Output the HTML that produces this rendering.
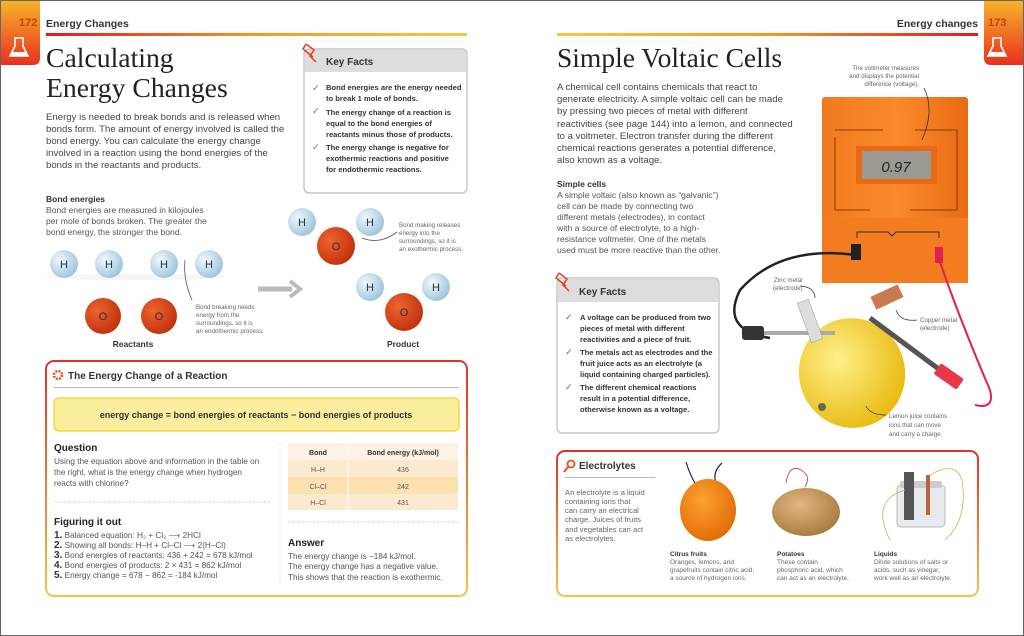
<!DOCTYPE html>
<html><head><meta charset="utf-8"><style>
html,body{margin:0;padding:0;background:#fff;}
svg{display:block;}
text{font-family:"Liberation Sans",sans-serif;}
.s{font-family:"Liberation Serif",serif;}
.b{font-weight:bold;}
</style></head><body>
<svg width="1024" height="636" viewBox="0 0 1024 636" xmlns="http://www.w3.org/2000/svg">
<defs>
<linearGradient id="lineL" x1="0" x2="1"><stop offset="0" stop-color="#e01b22"/><stop offset="0.5" stop-color="#f39a1e"/><stop offset="1" stop-color="#f8c840"/></linearGradient>
<linearGradient id="lineR" x1="0" x2="1"><stop offset="0" stop-color="#f8c840"/><stop offset="0.5" stop-color="#f39a1e"/><stop offset="1" stop-color="#e01b22"/></linearGradient>
<linearGradient id="tab" x1="0" y1="0" x2="0" y2="1"><stop offset="0" stop-color="#f7b32b"/><stop offset="1" stop-color="#e8301e"/></linearGradient>
<linearGradient id="box" x1="0" y1="0" x2="0" y2="1"><stop offset="0" stop-color="#e0302a"/><stop offset="1" stop-color="#f7c445"/></linearGradient>
<radialGradient id="hg" cx="0.35" cy="0.35" r="0.7"><stop offset="0" stop-color="#f2f8fc"/><stop offset="1" stop-color="#9cc4dc"/></radialGradient>
<radialGradient id="og" cx="0.35" cy="0.35" r="0.7"><stop offset="0" stop-color="#f0642e"/><stop offset="1" stop-color="#c0300e"/></radialGradient>
<radialGradient id="lem" cx="0.4" cy="0.35" r="0.7"><stop offset="0" stop-color="#fff08a"/><stop offset="1" stop-color="#e8b80c"/></radialGradient>
<radialGradient id="org" cx="0.4" cy="0.35" r="0.7"><stop offset="0" stop-color="#ffa030"/><stop offset="1" stop-color="#e06a08"/></radialGradient>
<radialGradient id="pot" cx="0.4" cy="0.35" r="0.7"><stop offset="0" stop-color="#e0b880"/><stop offset="1" stop-color="#a87840"/></radialGradient>
<linearGradient id="meter" x1="0" x2="1"><stop offset="0" stop-color="#f07a1e"/><stop offset="0.5" stop-color="#fb8a2c"/><stop offset="1" stop-color="#e86a14"/></linearGradient>
</defs>
<rect x="0.5" y="0.5" width="1023" height="635" fill="#fff" stroke="#666"/>
<!-- LEFT PAGE -->
<path d="M1 1H40V58Q40 65 33 65H1Z" fill="url(#tab)"/>
<text x="19" y="26" font-size="11" class="b" fill="#b8480c">172</text>
<path d="M15 38h8v8l5 10h-18l5-10z" fill="none" stroke="#fff" stroke-width="1.6"/>
<path d="M12 52h14l2 4h-18z" fill="#fff"/>
<text x="46" y="27" font-size="10.5" class="b" fill="#333">Energy Changes</text>
<rect x="46" y="33" width="421" height="3" fill="url(#lineL)"/>
<text x="46" y="67" font-size="27.7" class="s" fill="#222">Calculating</text>
<text x="46" y="97" font-size="27.7" class="s" fill="#222">Energy Changes</text>
<g font-size="9.6" fill="#444">
<text x="46" y="120">Energy is needed to break bonds and is released when</text>
<text x="46" y="132">bonds form. The amount of energy involved is called the</text>
<text x="46" y="144">bond energy. You can calculate the energy change</text>
<text x="46" y="156">involved in a reaction using the bond energies of the</text>
<text x="46" y="168">bonds in the reactants and products.</text>
</g>
<!-- key facts L -->
<rect x="304" y="49" width="163" height="144" rx="5" fill="#fff" stroke="#bbb" stroke-width="1.2"/>
<path d="M305 72V54Q305 50 309 50H462Q466 50 466 54V72Z" fill="#ddd"/>
<text x="326" y="65" font-size="10" class="b" fill="#333">Key Facts</text>
<path d="M306 44l8 6-4 6 6 6M306 44l-3 5 10 8" fill="none" stroke="#e8401e" stroke-width="1.5"/>
<g font-size="7.6" class="b" fill="#333">
<text x="312" y="91" fill="#999" font-size="9">✓</text>
<text x="326" y="90">Bond energies are the energy needed</text>
<text x="326" y="101">to break 1 mole of bonds.</text>
<text x="312" y="114" fill="#999" font-size="9">✓</text>
<text x="326" y="115">The energy change of a reaction is</text>
<text x="326" y="126">equal to the bond energies of</text>
<text x="326" y="137">reactants minus those of products.</text>
<text x="312" y="150" fill="#999" font-size="9">✓</text>
<text x="326" y="150">The energy change is negative for</text>
<text x="326" y="161">exothermic reactions and positive</text>
<text x="326" y="172">for endothermic reactions.</text>
</g>
<text x="46" y="202" font-size="8.5" class="b" fill="#333">Bond energies</text>
<g font-size="8.6" fill="#555">
<text x="46" y="213">Bond energies are measured in kilojoules</text>
<text x="46" y="224">per mole of bonds broken. The greater the</text>
<text x="46" y="235">bond energy, the stronger the bond.</text>
</g>
<!-- molecules -->
<g font-size="11" class="s" fill="#234" text-anchor="middle">
<ellipse cx="135" cy="277" rx="90" ry="3" fill="#f5f5f5"/>
<circle cx="64" cy="264" r="14" fill="url(#hg)"/><text x="64" y="268">H</text>
<circle cx="109" cy="264" r="14" fill="url(#hg)"/><text x="109" y="268">H</text>
<circle cx="164" cy="264" r="14" fill="url(#hg)"/><text x="164" y="268">H</text>
<circle cx="209" cy="264" r="14" fill="url(#hg)"/><text x="209" y="268">H</text>
<circle cx="103" cy="316" r="18" fill="url(#og)"/><text x="103" y="320">O</text>
<circle cx="159" cy="316" r="18" fill="url(#og)"/><text x="159" y="320">O</text>
<circle cx="302" cy="222" r="14" fill="url(#hg)"/><text x="302" y="226">H</text>
<circle cx="370" cy="222" r="14" fill="url(#hg)"/><text x="370" y="226">H</text>
<circle cx="336" cy="246" r="19" fill="url(#og)"/><text x="336" y="250">O</text>
<circle cx="370" cy="287" r="14" fill="url(#hg)"/><text x="370" y="291">H</text>
<circle cx="436" cy="287" r="14" fill="url(#hg)"/><text x="436" y="291">H</text>
<circle cx="404" cy="312" r="19" fill="url(#og)"/><text x="404" y="316">O</text>
</g>
<path d="M258 289h34" stroke="#bbb" stroke-width="5"/><path d="M290 281l10 8-10 8" fill="none" stroke="#bbb" stroke-width="4"/>
<path d="M192 300Q183 280 185 260" fill="none" stroke="#555" stroke-width="0.8"/>
<path d="M362 238Q380 245 397 232" fill="none" stroke="#555" stroke-width="0.8"/>
<g font-size="6.2" fill="#666">
<text x="196" y="309">Bond breaking needs</text><text x="196" y="317">energy from the</text><text x="196" y="325">surroundings, so it is</text><text x="196" y="333">an endothermic process.</text>
<text x="399" y="227">Bond making releases</text><text x="399" y="235">energy into the</text><text x="399" y="243">surroundings, so it is</text><text x="399" y="251">an exothermic process.</text>
</g>
<text x="133" y="347" font-size="8.5" class="b" fill="#333" text-anchor="middle">Reactants</text>
<text x="403" y="347" font-size="8.5" class="b" fill="#333" text-anchor="middle">Product</text>
<!-- reaction box -->
<rect x="46" y="361" width="421" height="235" rx="8" fill="#fff" stroke="url(#box)" stroke-width="2"/>
<circle cx="58" cy="375" r="4" fill="none" stroke="#e8501e" stroke-width="2.5" stroke-dasharray="2 1.2"/>
<text x="68" y="379" font-size="10" class="b" fill="#333">The Energy Change of a Reaction</text>
<rect x="54" y="387" width="405" height="1" fill="#bbb"/>
<rect x="54" y="398" width="405" height="33" rx="5" fill="#fbed9e" stroke="#f3d74a" stroke-width="1.5"/>
<text x="256" y="418" font-size="9" class="b" fill="#333" text-anchor="middle">energy change = bond energies of reactants − bond energies of products</text>
<text x="54" y="451" font-size="10" class="b" fill="#222">Question</text>
<g font-size="8.2" fill="#555"><text x="54" y="464">Using the equation above and information in the table on</text><text x="54" y="475">the right, what is the energy change when hydrogen</text><text x="54" y="486">reacts with chlorine?</text></g>
<path d="M54 502H271M288 522H459" stroke="#bbb" stroke-dasharray="1 1.5"/>
<path d="M280 443V582" stroke="#ccc" stroke-dasharray="1 1.5"/>
<rect x="288" y="443" width="170" height="67" fill="#fbe1b0"/>
<rect x="288" y="460" width="170" height="17" fill="#fcead0"/>
<rect x="288" y="494" width="170" height="16" fill="#fcead0"/>
<rect x="288" y="443" width="170" height="17" fill="#fdf2e4"/>
<path d="M348 443V510" stroke="#fff"/>
<g font-size="7" fill="#555" text-anchor="middle">
<text x="318" y="455" class="b" fill="#333">Bond</text><text x="403" y="455" class="b" fill="#333">Bond energy (kJ/mol)</text>
<text x="318" y="472">H–H</text><text x="403" y="472">436</text>
<text x="318" y="489">Cl–Cl</text><text x="403" y="489">242</text>
<text x="318" y="505">H–Cl</text><text x="403" y="505">431</text>
</g>
<text x="54" y="525" font-size="10" class="b" fill="#222">Figuring it out</text>
<g font-size="8.2" fill="#555">
<text x="54" y="538"><tspan class="b" font-size="10" fill="#333">1.</tspan> Balanced equation: H₂ + Cl₂ ⟶ 2HCl</text>
<text x="54" y="548"><tspan class="b" font-size="10" fill="#333">2.</tspan> Showing all bonds: H–H + Cl–Cl ⟶ 2(H–Cl)</text>
<text x="54" y="558"><tspan class="b" font-size="10" fill="#333">3.</tspan> Bond energies of reactants: 436 + 242 = 678 kJ/mol</text>
<text x="54" y="568"><tspan class="b" font-size="10" fill="#333">4.</tspan> Bond energies of products: 2 × 431 = 862 kJ/mol</text>
<text x="54" y="578"><tspan class="b" font-size="10" fill="#333">5.</tspan> Energy change = 678 − 862 = -184 kJ/mol</text>
</g>
<text x="288" y="546" font-size="10" class="b" fill="#222">Answer</text>
<g font-size="8.2" fill="#555"><text x="288" y="559">The energy change is −184 kJ/mol.</text><text x="288" y="569">The energy change has a negative value.</text><text x="288" y="580">This shows that the reaction is exothermic.</text></g>

<!-- RIGHT PAGE -->
<path d="M1023 1H984V58Q984 65 991 65H1023Z" fill="url(#tab)"/>
<text x="988" y="26" font-size="11" class="b" fill="#b8480c">173</text>
<path d="M993 38h8v8l5 10h-18l5-10z" fill="none" stroke="#fff" stroke-width="1.6"/>
<path d="M990 52h14l2 4h-18z" fill="#fff"/>
<text x="978" y="27" font-size="10.5" class="b" fill="#333" text-anchor="end">Energy changes</text>
<rect x="557" y="33" width="421" height="3" fill="url(#lineR)"/>
<text x="557" y="67" font-size="27.5" class="s" fill="#222">Simple Voltaic Cells</text>
<g font-size="9.6" fill="#444">
<text x="557" y="90">A chemical cell contains chemicals that react to</text>
<text x="557" y="102">generate electricity. A simple voltaic cell can be made</text>
<text x="557" y="114">by pressing two pieces of metal with different</text>
<text x="557" y="127">reactivities (see page 144) into a lemon, and connected</text>
<text x="557" y="139">to a voltmeter. Electron transfer during the different</text>
<text x="557" y="151">chemical reactions generates a potential difference,</text>
<text x="557" y="163">also known as a voltage.</text>
</g>
<text x="557" y="187" font-size="8.5" class="b" fill="#333">Simple cells</text>
<g font-size="8.6" fill="#555">
<text x="557" y="198">A simple voltaic (also known as “galvanic”)</text>
<text x="557" y="209">cell can be made by connecting two</text>
<text x="557" y="220">different metals (electrodes), in contact</text>
<text x="557" y="231">with a source of electrolyte, to a high-</text>
<text x="557" y="242">resistance voltmeter. One of the metals</text>
<text x="557" y="253">used must be more reactive than the other.</text>
</g>
<!-- voltmeter -->
<g font-size="6.2" fill="#666" text-anchor="end">
<text x="919" y="70">The voltmeter measures</text><text x="919" y="78">and displays the potential</text><text x="919" y="86">difference (voltage).</text>
</g>
<rect x="822" y="97" width="146" height="186" rx="3" fill="url(#meter)"/>
<rect x="822" y="218" width="146" height="65" fill="#f47c20"/>
<path d="M835 137V210M835 130H883M915 130H957V210M835 210H870M910 210H957" stroke="#8a3a08" fill="none"/>
<rect x="856" y="146" width="81" height="38" fill="#e86a14"/>
<rect x="862" y="151" width="69" height="28" fill="#9a9a92"/>
<text x="896" y="172" font-size="15" fill="#222" text-anchor="middle" font-style="italic">0.97</text>
<path d="M857 238V232H888l4 4 4-4H939V238" stroke="#333" fill="none"/>
<path d="M924 88Q935 110 922 140" fill="none" stroke="#333" stroke-width="0.8"/>
<!-- wires & lemon -->
<path d="M855 255Q780 245 740 290Q720 330 770 338" fill="none" stroke="#222" stroke-width="2.5"/>
<rect x="851" y="244" width="10" height="16" fill="#222"/>
<rect x="935" y="247" width="8" height="16" fill="#e02050"/>
<path d="M940 262Q960 320 990 390Q995 410 975 405" fill="none" stroke="#e42050" stroke-width="2"/>
<ellipse cx="852" cy="373" rx="53" ry="55" fill="url(#lem)" transform="rotate(-15 852 373)"/>
<circle cx="822" cy="407" r="4" fill="#665"/>
<rect x="742" y="326" width="22" height="14" rx="3" fill="#333"/>
<path d="M764 333H835" stroke="#aaa" stroke-width="4"/>
<rect x="804" y="300" width="12" height="42" fill="#ddd" stroke="#999" stroke-width="0.5" transform="rotate(-20 810 321)"/>
<rect x="872" y="290" width="30" height="14" fill="#c87a50" transform="rotate(-25 887 297)"/>
<path d="M870 318L940 370" stroke="#555" stroke-width="5"/>
<rect x="935" y="370" width="28" height="13" rx="2" fill="#e83848" transform="rotate(35 949 376)"/>
<g font-size="6.2" fill="#666">
<text x="774" y="282">Zinc metal</text><text x="773" y="290">(electrode)</text>
<text x="920" y="322">Copper metal</text><text x="920" y="330">(electrode)</text>
<text x="889" y="418">Lemon juice contains</text><text x="889" y="427">ions that can move</text><text x="889" y="436">and carry a charge.</text>
</g>
<path d="M800 286Q815 287 815 298M917 320Q900 322 896 310M886 415Q870 415 866 406" fill="none" stroke="#333" stroke-width="0.7"/>
<!-- key facts R -->
<rect x="557" y="278" width="162" height="155" rx="5" fill="#fff" stroke="#bbb" stroke-width="1.2"/>
<path d="M558 302V283Q558 279 562 279H714Q718 279 718 283V302Z" fill="#ddd"/>
<text x="579" y="295" font-size="10" class="b" fill="#333">Key Facts</text>
<path d="M559 273l8 6-4 6 6 6M559 273l-3 5 10 8" fill="none" stroke="#e8401e" stroke-width="1.5"/>
<g font-size="7.6" class="b" fill="#333">
<text x="565" y="320" fill="#999" font-size="9">✓</text>
<text x="580" y="320">A voltage can be produced from two</text>
<text x="580" y="331">pieces of metal with different</text>
<text x="580" y="342">reactivities and a piece of fruit.</text>
<text x="565" y="355" fill="#999" font-size="9">✓</text>
<text x="580" y="355">The metals act as electrodes and the</text>
<text x="580" y="366">fruit juice acts as an electrolyte (a</text>
<text x="580" y="377">liquid containing charged particles).</text>
<text x="565" y="390" fill="#999" font-size="9">✓</text>
<text x="580" y="390">The different chemical reactions</text>
<text x="580" y="401">result in a potential difference,</text>
<text x="580" y="412">otherwise known as a voltage.</text>
</g>
<!-- electrolytes -->
<rect x="557" y="451" width="421" height="145" rx="8" fill="#fff" stroke="url(#box)" stroke-width="2"/>
<circle cx="571" cy="464" r="3.5" fill="none" stroke="#e8501e" stroke-width="1.8"/><path d="M568 467l-4 5" stroke="#e8501e" stroke-width="2"/>
<text x="579" y="469" font-size="10" class="b" fill="#333">Electrolytes</text>
<rect x="565" y="477" width="90" height="1" fill="#bbb"/>
<g font-size="7.6" fill="#666">
<text x="565" y="495">An electrolyte is a liquid</text><text x="565" y="504">containing ions that</text><text x="565" y="513">can carry an electrical</text><text x="565" y="522">charge. Juices of fruits</text><text x="565" y="532">and vegetables can act</text><text x="565" y="541">as electrolytes.</text>
</g>
<path d="M686 462Q690 475 695 483M722 463Q712 472 716 483" fill="none" stroke="#225" stroke-width="1.2"/>
<ellipse cx="708" cy="510" rx="28" ry="31" fill="url(#org)"/>
<path d="M786 483Q790 460 805 473Q810 478 805 487" fill="none" stroke="#c33" stroke-width="0.8"/>
<ellipse cx="806" cy="512" rx="34" ry="24" fill="url(#pot)"/>
<rect x="897" y="485" width="48" height="42" rx="4" fill="#e8ebee" stroke="#bbb"/>
<rect x="900" y="481" width="42" height="7" rx="2" fill="#ccc"/>
<rect x="904" y="472" width="10" height="48" fill="#555"/>
<rect x="926" y="475" width="4" height="40" fill="#b86040"/>
<path d="M905 490Q870 500 890 540M930 475Q955 460 962 480Q968 520 945 540" fill="none" stroke="#d4a030" stroke-width="0.7"/>
<g font-size="6.5" fill="#666">
<text x="670" y="556" class="b" fill="#333">Citrus fruits</text><text x="670" y="564">Oranges, lemons, and</text><text x="670" y="572">grapefruits contain citric acid,</text><text x="670" y="580">a source of hydrogen ions.</text>
<text x="777" y="556" class="b" fill="#333">Potatoes</text><text x="777" y="564">These contain</text><text x="777" y="572">phosphoric acid, which</text><text x="777" y="580">can act as an electrolyte.</text>
<text x="874" y="556" class="b" fill="#333">Liquids</text><text x="874" y="564">Dilute solutions of salts or</text><text x="874" y="572">acids, such as vinegar,</text><text x="874" y="580">work well as an electrolyte.</text>
</g>
</svg>
</body></html>
